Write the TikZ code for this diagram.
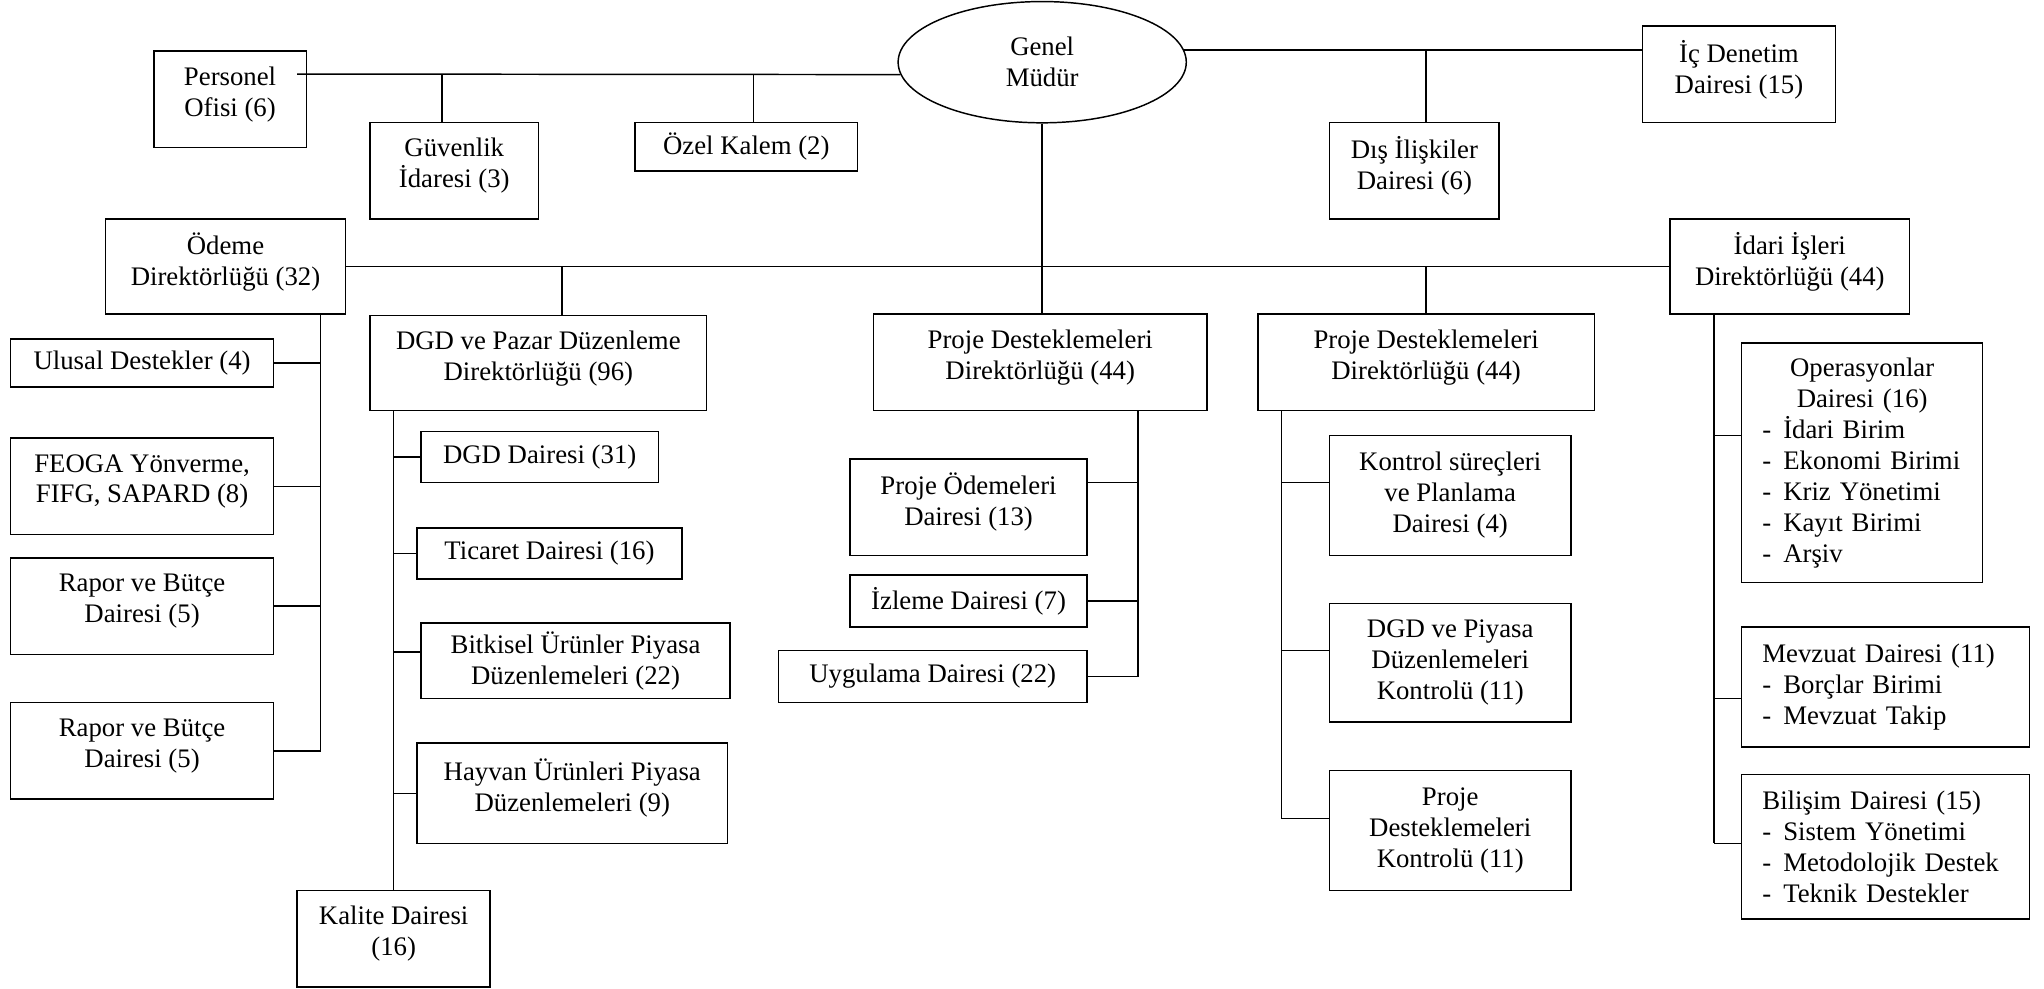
\documentclass[tikz,border=0pt]{standalone}
\usepackage{fontspec}
\setmainfont{Liberation Serif}
\usetikzlibrary{shapes.geometric}

\tikzset{
  kutu/.style={draw, line width=0.8pt, inner sep=0pt, align=center,
    font=\fontsize{14.6}{16.9}\selectfont},
  yukari/.style={execute at end node={\rule[-8.3pt]{0pt}{8.3pt}}},
  asagi/.style={execute at begin node={\rule{0pt}{17pt}}},
  listekutu/.style={kutu, align=left, inner xsep=0.4cm},
  mudur/.style={ellipse, draw, line width=0.8pt, inner sep=0pt, align=center,
    font=\fontsize{14.6}{16.9}\selectfont},
  hat/.style={line width=0.8pt}
}

% [style] (name, x1, y1, x2, y2, text) -- corners on the 1568 x 758 grid
\newcommand{\birim}[7][]{
    \pgfmathsetmacro{\birimW}{(#5-#3)*0.025}
    \pgfmathsetmacro{\birimH}{(#6-#4)*0.025}
    \node[kutu, #1, minimum width=\birimW cm, minimum height=\birimH cm]
      (#2) at ({(#3+#5)/2}, {(#4+#6)/2}) {#7};
}
\newcommand{\liste}[6]{
    \pgfmathsetmacro{\birimW}{(#4-#2-32)*0.025}
    \pgfmathsetmacro{\birimH}{(#5-#3)*0.025}
    \node[listekutu, text width=\birimW cm, minimum height=\birimH cm]
      (#1) at ({(#2+#4)/2}, {(#3+#5)/2}) {#6};
}
\newcommand{\madde}[1]{\mbox{\makebox[0.4cm][l]{-}#1}}

\begin{document}
\begin{tikzpicture}[x=0.025cm, y=-0.025cm]
  \useasboundingbox (0,0) rectangle (1568,758);

  % ust kademe
  \node[mudur, minimum width=5.525cm, minimum height=2.325cm] (gm) at (799.5,47.7) {Genel\\Müdür};
  \birim[yukari]{personel}{118}{39}{235}{113}{Personel\\Ofisi (6)}
  \birim[yukari]{guvenlik}{284}{94}{413}{168}{Güvenlik\\İdaresi (3)}
  \birim{ozel}{487}{94}{658}{131}{Özel Kalem (2)}
  \birim[yukari]{dis}{1020}{94}{1150}{168}{Dış İlişkiler\\Dairesi (6)}
  \birim[yukari]{icd}{1260}{20}{1408}{94}{İç Denetim\\Dairesi (15)}

  % direktorlukler
  \birim[yukari]{odeme}{81}{168}{265}{241}{Ödeme\\Direktörlüğü (32)}
  \birim[yukari]{idari}{1281}{168}{1465}{241}{İdari İşleri\\Direktörlüğü (44)}
  \birim[yukari]{dgd}{284}{242}{542}{315}{DGD ve Pazar Düzenleme\\Direktörlüğü (96)}
  \birim[yukari]{pdA}{670}{241}{926}{315}{Proje Desteklemeleri\\Direktörlüğü (44)}
  \birim[yukari]{pdB}{965}{241}{1223}{315}{Proje Desteklemeleri\\Direktörlüğü (44)}

  % odeme
  \birim{ulusal}{8}{260}{210}{297}{Ulusal Destekler (4)}
  \birim[yukari]{feoga}{8}{336}{210}{410}{FEOGA Yönverme,\\FIFG, SAPARD (8)}
  \birim[yukari]{raporA}{8}{428}{210}{502}{Rapor ve Bütçe\\Dairesi (5)}
  \birim[yukari]{raporB}{8}{539}{210}{613}{Rapor ve Bütçe\\Dairesi (5)}

  % dgd ve pazar
  \birim{dgdDaire}{323}{331}{505}{370}{DGD Dairesi (31)}
  \birim{ticaret}{320}{405}{523}{444}{Ticaret Dairesi (16)}
  \birim[asagi]{bitkisel}{323}{478}{560}{536}{Bitkisel Ürünler Piyasa\\Düzenlemeleri (22)}
  \birim[yukari]{hayvan}{320}{570}{558}{647}{Hayvan Ürünleri Piyasa\\Düzenlemeleri (9)}
  \birim[yukari]{kalite}{228}{683}{376}{757}{Kalite Dairesi\\(16)}

  % proje A
  \birim[yukari]{odemeler}{652}{352}{834}{426}{Proje Ödemeleri\\Dairesi (13)}
  \birim{izleme}{652}{441}{834}{481}{İzleme Dairesi (7)}
  \birim{uygulama}{597}{499}{834}{539}{Uygulama Dairesi (22)}

  % proje B
  \birim{kontrol}{1020}{334}{1205}{426}{Kontrol süreçleri\\ve Planlama\\Dairesi (4)}
  \birim{dgdKontrol}{1020}{463}{1205}{554}{DGD ve Piyasa\\Düzenlemeleri\\Kontrolü (11)}
  \birim{projeKontrol}{1020}{591}{1205}{683}{Proje\\Desteklemeleri\\Kontrolü (11)}

  % idari
  \liste{operasyon}{1336}{263}{1521}{447}{\makebox[\hsize]{Operasyonlar}\\\makebox[\hsize]{Dairesi (16)}\\\madde{İdari Birim}\\\madde{Ekonomi Birimi}\\\madde{Kriz Yönetimi}\\\madde{Kayıt Birimi}\\\madde{Arşiv}}
  \liste{mevzuat}{1336}{481}{1557}{573}{Mevzuat Dairesi (11)\\\madde{Borçlar Birimi}\\\madde{Mevzuat Takip}}
  \liste{bilisim}{1336}{594}{1557}{705}{Bilişim Dairesi (15)\\\madde{Sistem Yönetimi}\\\madde{Metodolojik Destek}\\\madde{Teknik Destekler}}

  % hatlar
  \coordinate (solRay) at (228,56.8);
  \coordinate (gJ) at (339,56.8);
  \coordinate (oJ) at (578,56.8);
  \coordinate (dJ) at (1094,38.6);
  \draw[hat] (solRay) -- (gm.185);
  \draw[hat] (gJ) -- (gJ |- guvenlik.north);
  \draw[hat] (oJ) -- (oJ |- ozel.north);
  \draw[hat] (gm.5) -- (gm.5 -| icd.west);
  \draw[hat] (dJ) -- (dJ |- dis.north);

  \draw[hat] (gm.south) -- (gm.south |- pdA.north);
  \draw[hat] (odeme.east) -- (idari.west);
  \coordinate (dgdJ) at (431,204.5);
  \draw[hat] (dgdJ) -- (dgdJ |- dgd.north);
  \draw[hat] (pdB.north) -- (pdB.north |- idari.west);

  \coordinate (odRay) at (246,576);
  \draw[hat] (odRay |- odeme.south) -- (odRay);
  \foreach \n in {ulusal, feoga, raporA, raporB}
    \draw[hat] (\n.east) -- (\n.east -| odRay);

  \draw[hat] (kalite.north |- dgd.south) -- (kalite.north);
  \coordinate (bitJ) at (302,500);
  \draw[hat] (bitJ) -- (bitJ -| bitkisel.west);
  \foreach \n in {dgdDaire, ticaret, hayvan}
    \draw[hat] (\n.west) -- (\n.west -| kalite.north);

  \coordinate (paRay) at (873,519);
  \coordinate (paJ) at (873,370);
  \draw[hat] (paRay |- pdA.south) -- (paRay);
  \draw[hat] (paJ) -- (paJ -| odemeler.east);
  \draw[hat] (izleme.east) -- (izleme.east -| paRay);
  \draw[hat] (uygulama.east) -- (uygulama.east -| paRay);

  \coordinate (pbRay) at (983,628);
  \coordinate (pbJ1) at (983,370);
  \coordinate (pbJ2) at (983,499);
  \draw[hat] (pbRay |- pdB.south) -- (pbRay);
  \draw[hat] (pbJ1) -- (pbJ1 -| kontrol.west);
  \draw[hat] (pbJ2) -- (pbJ2 -| dgdKontrol.west);
  \draw[hat] (pbRay) -- (pbRay -| projeKontrol.west);

  \coordinate (idRay) at (1315,647);
  \coordinate (idJ1) at (1315,334);
  \coordinate (idJ2) at (1315,536);
  \draw[hat] (idRay |- idari.south) -- (idRay);
  \draw[hat] (idJ1) -- (idJ1 -| operasyon.west);
  \draw[hat] (idJ2) -- (idJ2 -| mevzuat.west);
  \draw[hat] (idRay) -- (idRay -| bilisim.west);

\end{tikzpicture}
\end{document}
